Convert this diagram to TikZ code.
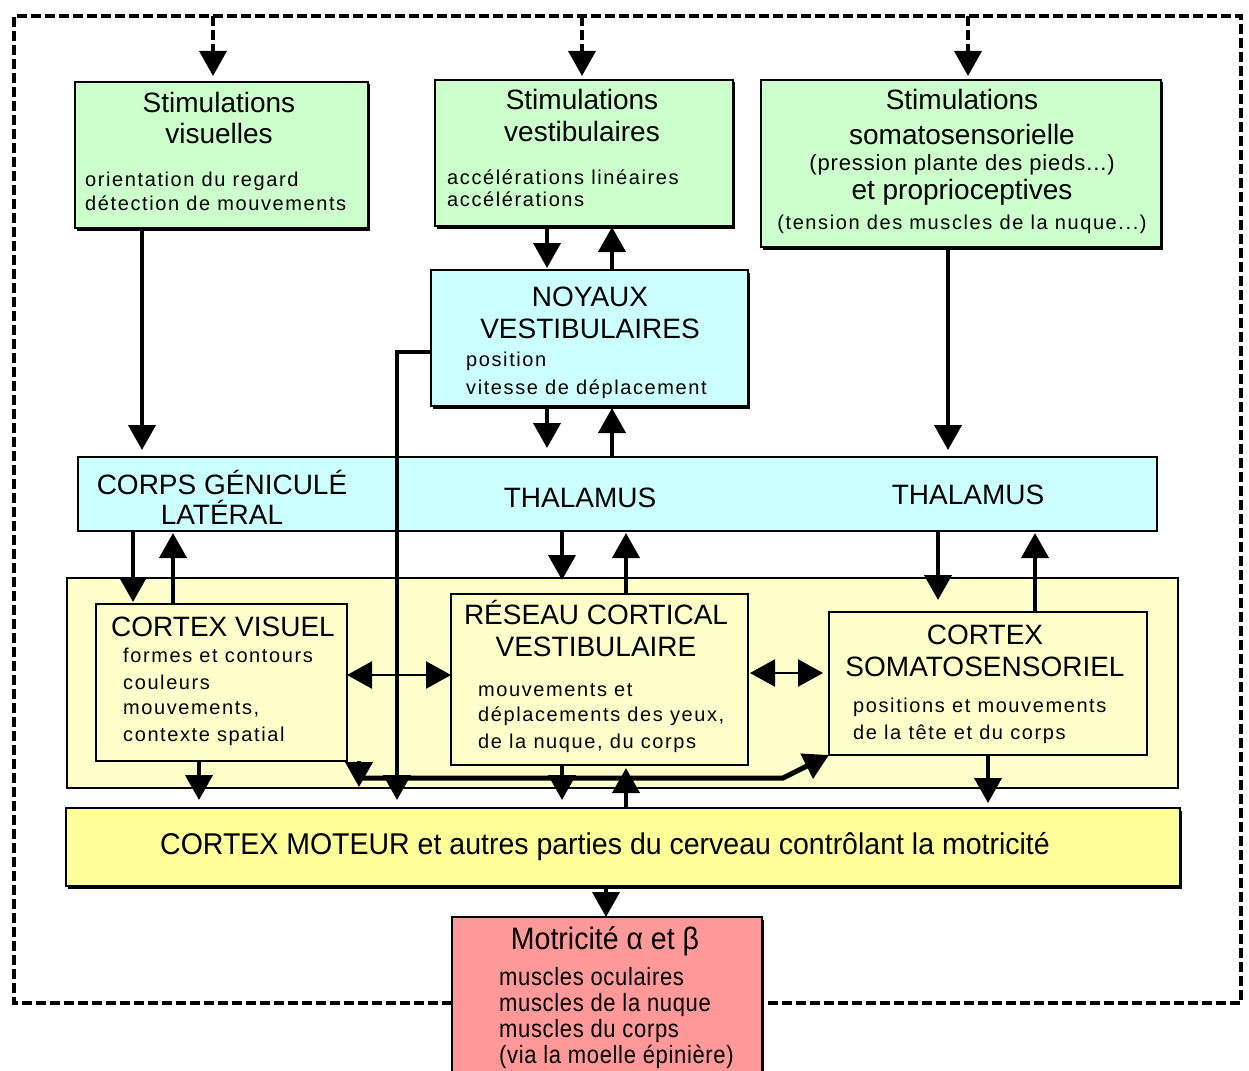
\documentclass[tikz,border=0pt]{standalone}
\usepackage{fontspec}
\setmainfont{Liberation Sans}
\newfontfamily\bodyfont[LetterSpace=8]{Liberation Sans}
\newfontfamily\midfont[LetterSpace=4]{Liberation Sans}
\newfontfamily\narrowfont[LetterSpace=3]{Liberation Sans}
\usetikzlibrary{arrows.meta,shadows}

\definecolor{stimgreen}{RGB}{204,255,204}
\definecolor{nucleicyan}{RGB}{204,255,255}
\definecolor{cortexpale}{RGB}{255,255,204}
\definecolor{motoryellow}{RGB}{255,255,153}
\definecolor{musclered}{RGB}{255,153,153}

\tikzset{
  box/.style={draw=black, line width=1.6pt, inner sep=0pt, outer sep=0pt, anchor=center},
  shadowed/.style={drop shadow={shadow xshift=1.5pt, shadow yshift=-2.5pt, fill=black, opacity=1}},
  title/.style={anchor=base, inner sep=0pt, font=\fontsize{28}{30}\selectfont},
  midtxt/.style={anchor=base, inner sep=0pt, font=\midfont\fontsize{22}{24}\selectfont},
  txt/.style={anchor=base west, inner sep=0pt, font=\bodyfont\fontsize{20}{22}\selectfont},
  narrowtxt/.style={anchor=base west, inner sep=0pt, font=\narrowfont\fontsize{25}{27}\selectfont},
  tip/.tip={Triangle[width=27pt,length=25pt]},
  link/.style={line width=4pt, -tip},
  dlink/.style={line width=2.5pt, tip-tip},
  feedback/.style={line width=3.5pt, dash pattern=on 10pt off 4pt},
}

\begin{document}
\begin{tikzpicture}[x=1pt, y=-1pt]
\useasboundingbox (0,0) rectangle (1249,1070);

% sensory inputs
\node[box, shadowed, fill=stimgreen, minimum width=293pt, minimum height=146pt] (sv) at (221.5,155) {};
\node[box, shadowed, fill=stimgreen, minimum width=298pt, minimum height=146pt] (sb) at (584,153) {};
\node[box, shadowed, fill=stimgreen, minimum width=400pt, minimum height=167pt] (ss) at (961,163.5) {};

\node[title] (sv1) at (219,113) {Stimulations};
\node[title] (sv2) at (219,143) {visuelles};
\node[txt] (sv3) at (85,186) {orientation du regard};
\node[txt] (sv4) at (85,210) {détection de mouvements};

\node[title] (sb1) at (582,110) {Stimulations};
\node[title] (sb2) at (582,141) {vestibulaires};
\node[txt] (sb3) at (447,184) {accélérations linéaires};
\node[txt] (sb4) at (447,206) {accélérations};

\node[title] (ss1) at (962,110) {Stimulations};
\node[title] (ss2) at (962,144) {somatosensorielle};
\node[midtxt] (ss3) at (962,170) {(pression plante des pieds...)};
\node[title] (ss4) at (962,199) {et proprioceptives};
\node[txt, anchor=base] (ss5) at (962,229) {(tension des muscles de la nuque...)};

% vestibular nuclei
\node[box, shadowed, fill=nucleicyan, minimum width=317pt, minimum height=136pt] (nv) at (589.5,338) {};
\node[title] (nv1) at (590,306) {NOYAUX};
\node[title] (nv2) at (590,338) {VESTIBULAIRES};
\node[txt] (nv3) at (466,366) {position};
\node[txt] (nv4) at (466,394) {vitesse de déplacement};

% thalamus
\node[box, fill=nucleicyan, minimum width=1079pt, minimum height=74pt] (th) at (617.5,494) {};
\node[title] (th1) at (222,494) {CORPS GÉNICULÉ};
\node[title] (th2) at (222,524) {LATÉRAL};
\node[title] (th3) at (580,507) {THALAMUS};
\node[title] (th4) at (968,504) {THALAMUS};

% cortical areas
\node[box, fill=cortexpale, minimum width=1111pt, minimum height=210pt] (cz) at (622.5,683) {};
\node[box, fill=cortexpale, minimum width=251pt, minimum height=157pt] (cv) at (221.5,682.5) {};
\node[box, fill=cortexpale, minimum width=297pt, minimum height=171pt] (rc) at (599.5,679.5) {};
\node[box, fill=cortexpale, minimum width=318pt, minimum height=143pt] (cs) at (988,683.5) {};

\node[title] (cv1) at (223,636) {CORTEX VISUEL};
\node[txt] (cv2) at (123,662) {formes et contours};
\node[txt] (cv3) at (123,689) {couleurs};
\node[txt] (cv4) at (123,714) {mouvements,};
\node[txt] (cv5) at (123,741) {contexte spatial};

\node[title] (rc1) at (596,624) {RÉSEAU CORTICAL};
\node[title] (rc2) at (596,656) {VESTIBULAIRE};
\node[txt] (rc3) at (478,696) {mouvements et};
\node[txt] (rc4) at (478,721) {déplacements des yeux,};
\node[txt] (rc5) at (478,748) {de la nuque, du corps};

\node[title] (cs1) at (985,644) {CORTEX};
\node[title] (cs2) at (985,676) {SOMATOSENSORIEL};
\node[txt] (cs3) at (853,712) {positions et mouvements};
\node[txt] (cs4) at (853,739) {de la tête et du corps};

% motor output
\node[box, shadowed, fill=motoryellow, minimum width=1114pt, minimum height=78pt] (cm) at (623,847) {};
\node[anchor=base, inner sep=0pt, font=\fontsize{30}{32}\selectfont] (cm1) at (605,854)
  {\scalebox{0.95}[1]{CORTEX MOTEUR et autres parties du cerveau contrôlant la motricité}};

\node[box, shadowed, fill=musclered, minimum width=310pt, minimum height=170pt] (mo) at (607,1002) {};
\node[anchor=base, inner sep=0pt, font=\fontsize{31}{33}\selectfont] (mo1) at (605,949)
  {\scalebox{0.92}[1]{Motricité α et β}};
\node[narrowtxt] (mo2) at (499,985) {\scalebox{0.88}[1]{muscles oculaires}};
\node[narrowtxt] (mo3) at (499,1011) {\scalebox{0.88}[1]{muscles de la nuque}};
\node[narrowtxt] (mo4) at (499,1037) {\scalebox{0.88}[1]{muscles du corps}};
\node[narrowtxt] (mo5) at (499,1063) {\scalebox{0.88}[1]{(via la moelle épinière)}};

% feedback loop from the muscles back to the sensory inputs
\coordinate (fl) at (14,1003);
\coordinate (fr) at (1241,1003);
\draw[feedback] (mo.west |- fl) -- (fl) -- (14,16) -- (1241,16) -- (fr) -- (mo.east |- fr);
\draw[feedback, -tip, shorten >=6pt] (213,16) -- (213,0 |- sv.north);
\draw[feedback, -tip, shorten >=4pt] (582,16) -- (582,0 |- sb.north);
\draw[feedback, -tip, shorten >=4pt] (968,16) -- (968,0 |- ss.north);

% sensory pathways to the thalamus
\draw[link, shorten >=7pt] (142,0 |- sv.south) -- (142,0 |- th.north);
\draw[link, shorten >=7pt] (948,0 |- ss.south) -- (948,0 |- th.north);
\draw[link, shorten >=2pt] (547,0 |- sb.south) -- (547,0 |- nv.north);
\draw[link, shorten >=1pt] (612,0 |- nv.north) -- (612,0 |- sb.south);
\draw[link, shorten >=9pt] (547,0 |- nv.south) -- (547,0 |- th.north);
\draw[link, shorten >=2pt] (612,0 |- th.north) -- (612,0 |- nv.south);
\draw[link, shorten >=8pt] ([yshift=-14pt]nv.west) -| (397,0 |- cm.north);

% thalamus <-> cortex
\draw[link, shorten >=2pt] (133,0 |- th.south) -- (133,0 |- cv.north);
\draw[link, shorten >=2pt] (173,0 |- cv.north) -- (173,0 |- th.south);
\draw[link, shorten >=14pt] (562,0 |- th.south) -- (562,0 |- rc.north);
\draw[link, shorten >=2pt] (626,0 |- rc.north) -- (626,0 |- th.south);
\draw[link, shorten >=12pt] (938,0 |- th.south) -- (938,0 |- cs.north);
\draw[link, shorten >=2pt] (1035,0 |- cs.north) -- (1035,0 |- th.south);

% cortico-cortical links
\draw[dlink] (cv.east |- 0,675) -- (rc.west |- 0,675);
\draw[dlink, shorten >=6pt, shorten <=2pt] (rc.east |- 0,673) -- (cs.west |- 0,673);
\draw[link] ([xshift=12pt]cv.south east) -- ++(0,26);
\draw[link, line width=5pt] ([xshift=12pt,yshift=-17pt]cv.south east) -- (783,778) -- (cs.south west);

% cortex -> motor cortex -> muscles
\draw[link, shorten >=8pt] (199,0 |- cv.south) -- (199,0 |- cm.north);
\draw[link, shorten >=8pt] (562,0 |- rc.south) -- (562,0 |- cm.north);
\draw[link, shorten >=3pt] (626,0 |- cm.north) -- (626,0 |- rc.south);
\draw[link, shorten >=5pt] (988,0 |- cs.south) -- (988,0 |- cm.north);
\draw[link] (606,0 |- cm.south) -- (606,0 |- mo.north);
\end{tikzpicture}
\end{document}
